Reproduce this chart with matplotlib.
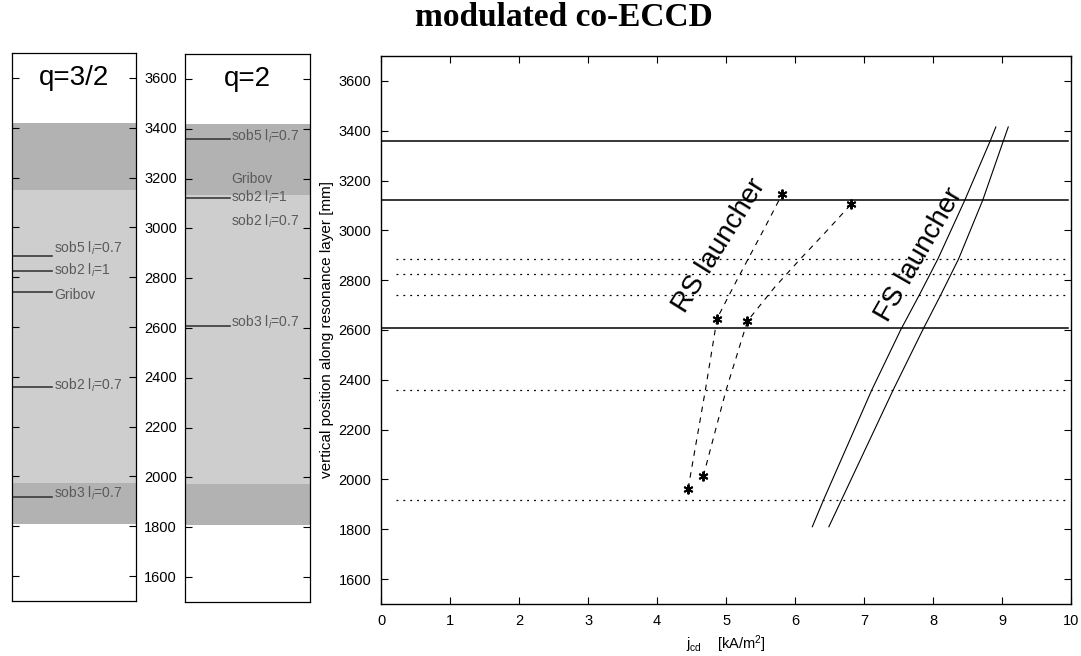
import numpy as np
import matplotlib
matplotlib.use("Agg")
import matplotlib.pyplot as plt

plt.rcParams["font.family"] = ["Liberation Sans", "DejaVu Sans"]
plt.rcParams["mathtext.fontset"] = "custom"
plt.rcParams["mathtext.rm"] = "Liberation Sans"
plt.rcParams["mathtext.it"] = "Liberation Sans:italic"

# ---------------------------------------------------------------
# data
# ---------------------------------------------------------------
Y_TICKS = [1600, 1800, 2000, 2200, 2400, 2600, 2800, 3000, 3200, 3400, 3600]
X_TICKS = [0, 1, 2, 3, 4, 5, 6, 7, 8, 9, 10]

# resonance layer bands (mm): dark top, light middle, dark bottom
BAND_TOP = 3420
BAND_BOTTOM = 1810
Q32_LIGHT = (1975, 3150)
Q2_LIGHT = (1975, 3135)

# q=3/2 island positions (dotted lines in the main plot)
Q32_NAMES = ["sob5 l$_i$=0.7", "sob2 l$_i$=1", "Gribov", "sob2 l$_i$=0.7", "sob3 l$_i$=0.7"]
Q32_POS = [2884, 2826, 2740, 2358, 1916]

# q=2 island positions (solid lines in the main plot where drawn)
Q2_NAMES = ["sob5 l$_i$=0.7", "Gribov", "sob2 l$_i$=1", "sob2 l$_i$=0.7", "sob3 l$_i$=0.7"]
Q2_POS = [3360, 3200, 3122, 3030, 2608]
Q2_DRAWN = [True, False, True, False, True]

# RS launcher, two mirrors (j_cd kA/m^2, position mm)
RS1_J = [4.45, 4.70, 4.87, 5.10, 5.31, 5.56, 5.81]
RS1_Z = [1963, 2358, 2646, 2770, 2880, 3010, 3144]
RS1_STARS = [0, 2, 6]
RS2_J = [4.67, 5.00, 5.31, 5.70, 6.06, 6.45, 6.81]
RS2_Z = [2013, 2358, 2636, 2770, 2880, 2995, 3104]
RS2_STARS = [0, 2, 6]

# FS launcher, two mirrors
FS_Z = [1810, 1916, 2358, 2600, 2740, 2885, 3121, 3360, 3415]
FS1_J = [6.25, 6.41, 7.11, 7.53, 7.80, 8.07, 8.46, 8.83, 8.91]
FS2_J = [6.49, 6.67, 7.42, 7.85, 8.11, 8.37, 8.72, 9.02, 9.09]

DARK = "#b2b2b2"
LIGHT = "#cecece"
LINE_GREY = "#3a3a3a"
TEXT_GREY = "#5a5a5a"

fig = plt.figure(figsize=(10.81, 6.56), dpi=100)


def side_panel(rect, title, light, names, pos, drawn, text_dy, line_end, text_x, show_labels):
    ax = fig.add_axes(rect)
    ax.set_xlim(0, 1)
    ax.set_ylim(1500, 3700)
    ax.axhspan(BAND_BOTTOM, BAND_TOP, color=DARK, lw=0)
    ax.axhspan(light[0], light[1], color=LIGHT, lw=0)
    for name, y, d, dy in zip(names, pos, drawn, text_dy):
        if d:
            ax.plot([0, line_end], [y, y], color=LINE_GREY, lw=1.2)
        ax.text(text_x, y + dy, name, color=TEXT_GREY, fontsize=10,
                ha="left", va="center")
    ax.text(0.5, 3600, title, fontsize=20, ha="center", va="center")
    ax.set_xticks([])
    ax.set_yticks(Y_TICKS)
    ax.tick_params(axis="y", direction="in", left=True, right=True,
                   labelleft=False, labelright=show_labels, length=5,
                   labelsize=10.5, pad=6)
    for s in ax.spines.values():
        s.set_linewidth(0.9)
    return ax


side_panel([0.0111, 0.0838, 0.1147, 0.8354], "q=3/2", Q32_LIGHT,
           Q32_NAMES, Q32_POS, [True] * len(Q32_POS), [34, 2, -12, 8, 18],
           0.32, 0.34, True)
side_panel([0.1711, 0.0823, 0.1156, 0.8354], "q=2", Q2_LIGHT,
           Q2_NAMES, Q2_POS, Q2_DRAWN, [8, 0, 4, 0, 14], 0.36, 0.37, False)

# main plot
ax = fig.add_axes([0.3525, 0.0793, 0.6383, 0.8354])
ax.set_xlim(0, 10)
ax.set_ylim(1500, 3700)

for y, d in zip(Q2_POS, Q2_DRAWN):
    if d:
        ax.plot([0, 9.95], [y, y], color="black", lw=1.1)
for y in Q32_POS:
    ax.plot([0.22, 9.95], [y, y], color="black", lw=0.9, linestyle=(0, (1.5, 4)))

for jj, zz, stars in [(RS1_J, RS1_Z, RS1_STARS), (RS2_J, RS2_Z, RS2_STARS)]:
    ax.plot(jj, zz, color="black", lw=0.8, linestyle=(0, (5, 5)))
    ax.plot([jj[i] for i in stars], [zz[i] for i in stars], linestyle="none",
            marker=(6, 2, 0), color="black", markersize=7, markeredgewidth=1.4)

ax.plot(FS1_J, FS_Z, color="black", lw=0.8)
ax.plot(FS2_J, FS_Z, color="black", lw=0.8)

ax.text(4.90, 2940, "RS launcher", fontsize=20, rotation=58,
        ha="center", va="center")
ax.text(7.80, 2900, "FS launcher", fontsize=20, rotation=60,
        ha="center", va="center")

ax.set_xticks(X_TICKS)
ax.set_yticks(Y_TICKS)
ax.tick_params(direction="in", top=True, right=True, length=5, labelsize=10.5, pad=7)
ax.set_ylabel("vertical position along resonance layer [mm]", fontsize=11, labelpad=3)
ax.set_xlabel(r"j$_{\mathrm{cd}}$    [kA/m$^2$]", fontsize=10.5, labelpad=4)
for s in ax.spines.values():
    s.set_linewidth(1.0)

fig.text(0.522, 0.974, "modulated co-ECCD", fontsize=24, fontweight="bold",
         family="Liberation Serif", ha="center", va="center")

fig.savefig("out.png", dpi=100)
